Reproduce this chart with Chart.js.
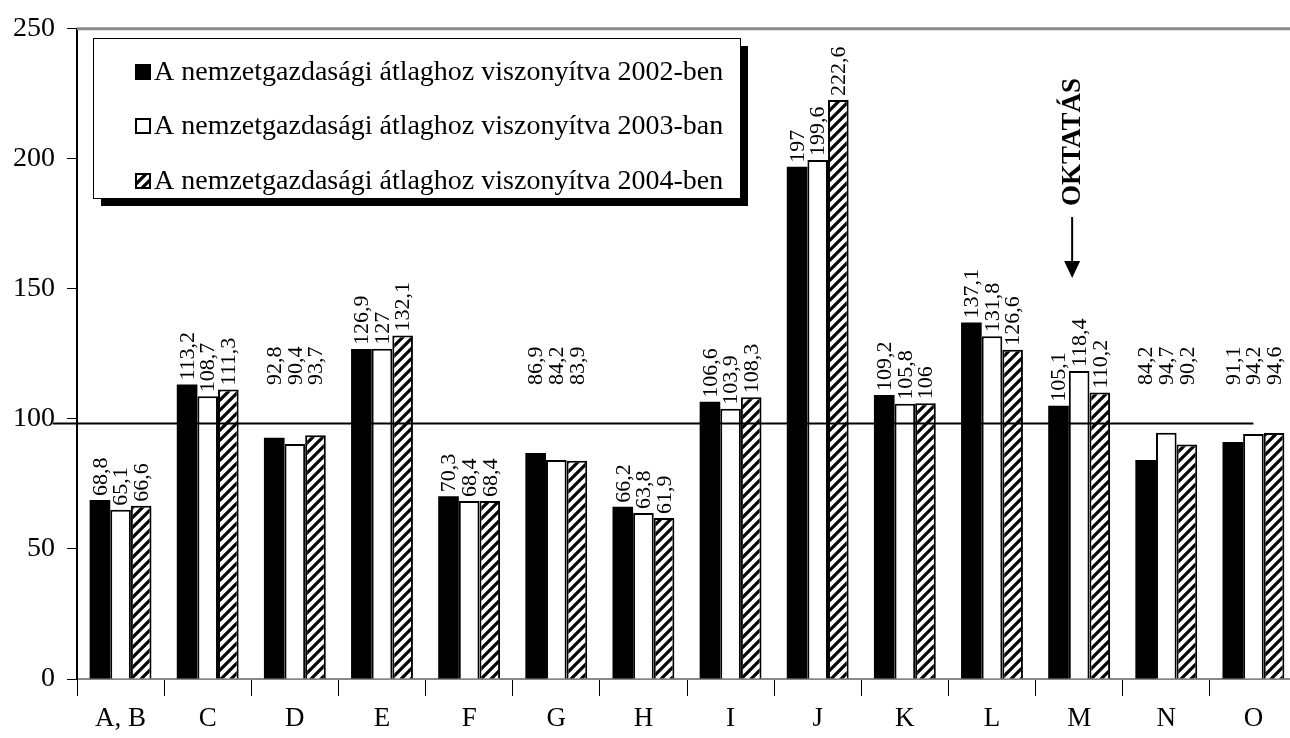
<!DOCTYPE html>
<html lang="hu">
<head>
<meta charset="utf-8">
<script src="https://cdn.jsdelivr.net/npm/chart.js@4"></script>
<style>
  html, body { margin: 0; padding: 0; background: #fff; overflow: hidden; }
  #wrap { width: 1300px; height: 738px; }
</style>
</head>
<body>
<div id="wrap"><canvas id="chartAtlag"></canvas></div>
<script>
// ── ADATOK ─────────────────────────────────────────────
const kategoriak = ['A, B', 'C', 'D', 'E', 'F', 'G', 'H', 'I', 'J', 'K', 'L', 'M', 'N', 'O'];

const ertekek2002 = [68.8, 113.2, 92.8, 126.9, 70.3, 86.9, 66.2, 106.6, 197, 109.2, 137.1, 105.1, 84.2, 91.1];
const ertekek2003 = [65.1, 108.7, 90.4, 127, 68.4, 84.2, 63.8, 103.9, 199.6, 105.8, 131.8, 118.4, 94.7, 94.2];
const ertekek2004 = [66.6, 111.3, 93.7, 132.1, 68.4, 83.9, 61.9, 108.3, 222.6, 106, 126.6, 110.2, 90.2, 94.6];

const sorozatNevek = [
    'A nemzetgazdasági átlaghoz viszonyítva 2002-ben',
    'A nemzetgazdasági átlaghoz viszonyítva 2003-ban',
    'A nemzetgazdasági átlaghoz viszonyítva 2004-ben'
];

const yMin = 0;
const yMax = 250;
const yLepes = 50;

// az "átlag" vonal (a rajzon kicsit 100 alatt fut)
const atlagSzint = 98.5;

// felirat a nyíllal
const kiemeltKategoria = 'M';
const kiemeltSzoveg = 'OKTATÁS';

const BETU = '"Liberation Serif", "Times New Roman", serif';

// ── SRAFFOZOTT MINTA ───────────────────────────────────
const canvas = document.getElementById('chartAtlag');
function csikosMinta() {
    const t = document.createElement('canvas');
    t.width = 10; t.height = 10;
    const c = t.getContext('2d');
    c.fillStyle = '#fff';
    c.fillRect(0, 0, 10, 10);
    c.strokeStyle = '#000';
    c.lineWidth = 3.2;
    c.beginPath();
    c.moveTo(-5, 5); c.lineTo(5, -5);
    c.moveTo(0, 10); c.lineTo(10, 0);
    c.moveTo(5, 15); c.lineTo(15, 5);
    c.stroke();
    return canvas.getContext('2d').createPattern(t, 'repeat');
}
const minta = csikosMinta();

function szamFormat(v) {
    return String(v).replace('.', ',');
}

// ── SAJÁT RAJZOLÁS: vonalak, címkék, jelmagyarázat, nyíl ──
const rajzPlugin = {
    id: 'rajzPlugin',
    afterDatasetsDraw(chart) {
        const ctx = chart.ctx;
        const area = chart.chartArea;
        const x = chart.scales.x;
        const y = chart.scales.y;

        ctx.save();

        // felső szürke vonal (250)
        ctx.strokeStyle = '#888';
        ctx.lineWidth = 3;
        ctx.beginPath();
        ctx.moveTo(area.left, area.top);
        ctx.lineTo(area.right, area.top);
        ctx.stroke();

        // átlag vonal
        const refY = Math.round(y.getPixelForValue(atlagSzint)) + 0.5;
        ctx.strokeStyle = '#000';
        ctx.lineWidth = 2;
        ctx.beginPath();
        ctx.moveTo(53, refY);
        ctx.lineTo(x.getPixelForValue(kategoriak.length - 1), refY);
        ctx.stroke();

        // értékcímkék, függőlegesen
        ctx.font = '22px ' + BETU;
        ctx.fillStyle = '#000';
        ctx.textAlign = 'left';
        ctx.textBaseline = 'middle';
        const emeltAlj = y.getPixelForValue(113);
        chart.data.datasets.forEach((ds, i) => {
            chart.getDatasetMeta(i).data.forEach((bar, j) => {
                const txt = szamFormat(ds.data[j]);
                const w = ctx.measureText(txt).width;
                let alj = bar.y - 4;
                // ha a címke átlógna az átlag vonalon, fölé kerül
                if (alj > refY && alj - w < refY) alj = emeltAlj;
                ctx.save();
                ctx.translate(bar.x, alj);
                ctx.rotate(-Math.PI / 2);
                ctx.fillText(txt, 0, 1);
                ctx.restore();
            });
        });

        // jelmagyarázat doboz árnyékkal
        const lx = 93, ly = 38, lw = 647, lh = 160;
        ctx.fillStyle = '#000';
        ctx.fillRect(lx + 8, ly + 8, lw, lh);
        ctx.fillStyle = '#fff';
        ctx.fillRect(lx, ly, lw, lh);
        ctx.strokeStyle = '#000';
        ctx.lineWidth = 1;
        ctx.strokeRect(lx + 0.5, ly + 0.5, lw, lh);

        ctx.font = '28px ' + BETU;
        ctx.textBaseline = 'middle';
        const sorok = [ly + 34, ly + 88, ly + 143];
        chart.data.datasets.forEach((ds, i) => {
            const sy = sorok[i];
            const bx = lx + 42, bs = 16;
            ctx.fillStyle = ds.backgroundColor;
            ctx.fillRect(bx, sy - bs / 2, bs, bs);
            if (ds.borderWidth) {
                ctx.strokeStyle = '#000';
                ctx.lineWidth = 2;
                ctx.strokeRect(bx + 1, sy - bs / 2 + 1, bs - 2, bs - 2);
            }
            ctx.fillStyle = '#000';
            ctx.fillText(ds.label, bx + bs + 3, sy + 1);
        });

        // OKTATÁS nyíl
        const ax = x.getPixelForValue(kategoriak.indexOf(kiemeltKategoria)) - 7;
        ctx.font = 'bold 27px ' + BETU;
        ctx.save();
        ctx.translate(ax, 206);
        ctx.rotate(-Math.PI / 2);
        ctx.textBaseline = 'middle';
        ctx.fillText(kiemeltSzoveg, 0, 1);
        ctx.restore();
        ctx.strokeStyle = '#000';
        ctx.lineWidth = 2;
        ctx.beginPath();
        ctx.moveTo(ax, 217);
        ctx.lineTo(ax, 262);
        ctx.stroke();
        ctx.beginPath();
        ctx.moveTo(ax - 8, 261);
        ctx.lineTo(ax + 8, 261);
        ctx.lineTo(ax, 278);
        ctx.closePath();
        ctx.fill();

        ctx.restore();
    }
};

new Chart(canvas, {
    type: 'bar',
    data: {
        labels: kategoriak,
        datasets: [
            {
                label: sorozatNevek[0],
                data: ertekek2002,
                backgroundColor: '#000',
                borderColor: '#000',
                borderWidth: 0
            },
            {
                label: sorozatNevek[1],
                data: ertekek2003,
                backgroundColor: '#fff',
                borderColor: '#000',
                borderWidth: 2
            },
            {
                label: sorozatNevek[2],
                data: ertekek2004,
                backgroundColor: minta,
                borderColor: '#000',
                borderWidth: 2
            }
        ]
    },
    options: {
        responsive: true,
        maintainAspectRatio: false,
        animation: false,
        devicePixelRatio: 1,
        layout: { padding: { top: 25, right: 3, left: 0, bottom: 0 } },
        datasets: {
            bar: { categoryPercentage: 0.71, barPercentage: 1 }
        },
        plugins: {
            legend: { display: false },
            tooltip: { enabled: false }
        },
        scales: {
            x: {
                grid: { offset: true, drawOnChartArea: false, tickLength: 17, color: '#000', lineWidth: 1 },
                border: { color: '#888', width: 2 },
                ticks: { color: '#000', font: { family: BETU, size: 27 }, padding: 7, maxRotation: 0 },
                afterFit: function (s) { s.height = 59; }
            },
            y: {
                min: yMin,
                max: yMax,
                ticks: { stepSize: yLepes, color: '#000', font: { family: BETU, size: 28 }, padding: 12 },
                grid: { drawOnChartArea: false, tickLength: 10, color: '#000', lineWidth: 1 },
                border: { color: '#000', width: 2 },
                afterFit: function (s) { s.width = 77; }
            }
        }
    },
    plugins: [rajzPlugin]
});
</script>
</body>
</html>
